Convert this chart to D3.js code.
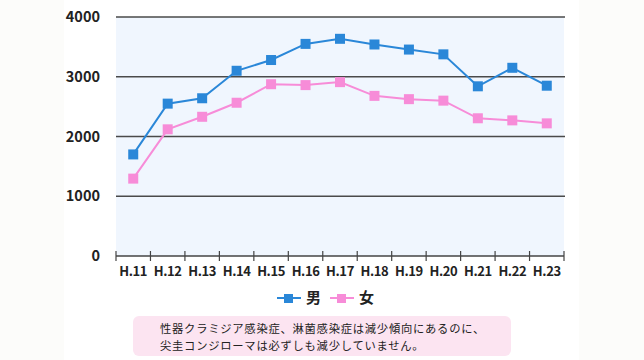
<!DOCTYPE html>
<html><head><meta charset="utf-8">
<script src="https://cdn.jsdelivr.net/npm/d3@7"></script>
<style>html,body{margin:0;padding:0;background:#fff}svg{display:block}</style>
</head><body>
<svg id="c" width="644" height="360"></svg>
<script>
const categories = ["H.11","H.12","H.13","H.14","H.15","H.16","H.17","H.18","H.19","H.20","H.21","H.22","H.23"];
const male   = [1700,2550,2640,3100,3280,3550,3635,3540,3455,3375,2840,3150,2850];
const female = [1295,2120,2330,2565,2875,2860,2910,2680,2625,2600,2305,2270,2220];
const yTicks = [0,1000,2000,3000,4000];
const seriesNames = ["男","女"];
const note = ["性器クラミジア感染症、淋菌感染症は減少傾向にあるのに、","尖圭コンジローマは必ずしも減少していません。"];
const colors = ["#2a87d8","#f78cd8"];

const svg = d3.select("#c");
svg.append("rect").attr("x",0).attr("y",0).attr("width",64).attr("height",360).attr("fill","#fcfcfa");
svg.append("rect").attr("x",579).attr("y",0).attr("width",65).attr("height",360).attr("fill","#fcfcfa");

const L=116,R=564,T=17,B=256;
const x = d3.scaleBand().domain(categories).range([L,R]).padding(0);
const y = d3.scaleLinear().domain([0,4000]).range([B,T]);

svg.append("rect").attr("x",L).attr("y",T).attr("width",R-L).attr("height",B-T).attr("fill","#f0f6fe");

svg.selectAll(".grid").data(yTicks.filter(d=>d>0)).enter().append("line")
  .attr("x1",L).attr("x2",R+1).attr("y1",d=>y(d)).attr("y2",d=>y(d))
  .attr("stroke","#4a4a4a").attr("stroke-width",1.5);

svg.selectAll(".ylab").data(yTicks).enter().append("text")
  .attr("x",100).attr("y",d=>y(d)).attr("dy","0.36em").attr("text-anchor","end")
  .attr("font-family","'Noto Sans CJK JP', 'Noto Sans', sans-serif").attr("font-weight","bold")
  .attr("font-size",14.5).attr("fill","#222").text(d=>d);

const gx = svg.append("g").attr("transform",`translate(0,${B})`);
gx.append("line").attr("x1",L).attr("x2",R).attr("stroke","#444").attr("stroke-width",1.3);
const bounds = categories.map(c=>x(c)).concat([R]);
gx.selectAll(".tk").data(bounds).enter().append("line")
  .attr("x1",d=>d).attr("x2",d=>d).attr("y1",-5).attr("y2",5).attr("stroke","#444").attr("stroke-width",1.2);
gx.selectAll(".xl").data(categories).enter().append("text")
  .attr("x",d=>x(d)+x.bandwidth()/2).attr("y",20).attr("text-anchor","middle")
  .attr("font-family","'Noto Sans CJK JP', 'Noto Sans', sans-serif").attr("font-weight","bold")
  .attr("font-size",13).attr("fill","#222").attr("letter-spacing",-0.4).text(d=>d);

const line = d3.line().x((d,i)=>x(categories[i])+x.bandwidth()/2).y(d=>y(d));
[male,female].forEach((s,k)=>{
  svg.append("path").datum(s).attr("d",line).attr("fill","none").attr("stroke",colors[k]).attr("stroke-width",2);
  svg.selectAll(".m"+k).data(s).enter().append("rect")
    .attr("x",(d,i)=>x(categories[i])+x.bandwidth()/2-5).attr("y",d=>y(d)-5)
    .attr("width",10).attr("height",10).attr("fill",colors[k]);
});

const leg = [{x:277,c:colors[0],t:seriesNames[0]},{x:330,c:colors[1],t:seriesNames[1]}];
leg.forEach(l=>{
  svg.append("line").attr("x1",l.x).attr("x2",l.x+24).attr("y1",298).attr("y2",298).attr("stroke",l.c).attr("stroke-width",2);
  svg.append("rect").attr("x",l.x+7).attr("y",294).attr("width",9).attr("height",9).attr("fill",l.c);
  svg.append("text").attr("x",l.x+29).attr("y",298).attr("dy","0.36em")
    .attr("font-family","'Noto Sans CJK JP', sans-serif").attr("font-weight","bold").attr("font-size",15).attr("fill","#222").text(l.t);
});

svg.append("rect").attr("x",133).attr("y",316).attr("width",378).attr("height",40).attr("rx",6).attr("fill","#fce4f1");
svg.selectAll(".note").data(note).enter().append("text")
  .attr("x",160).attr("y",(d,i)=>333+i*16.6)
  .attr("font-family","'Noto Sans CJK JP', sans-serif").attr("font-size",11.3)
  .attr("letter-spacing",0.75).attr("fill","#222").text(d=>d);
</script>
</body></html>
